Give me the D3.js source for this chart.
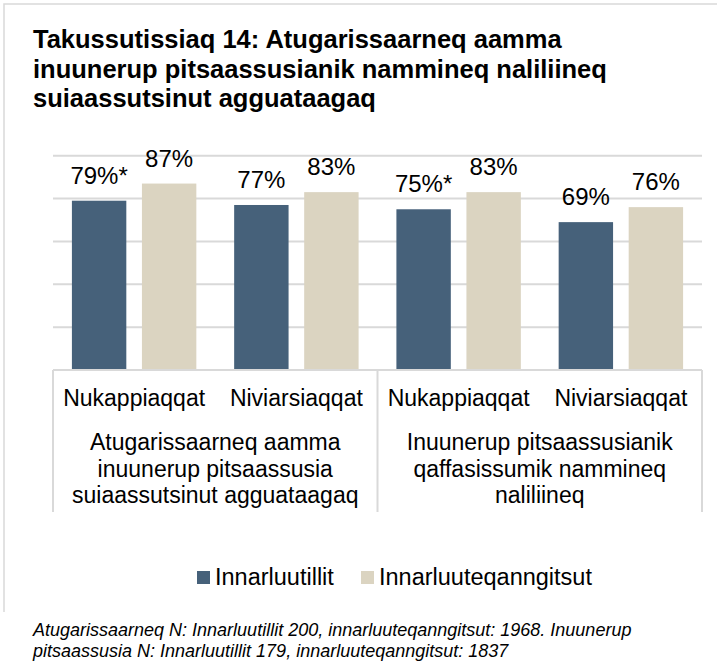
<!DOCTYPE html>
<html>
<head>
<meta charset="utf-8">
<script src="https://cdn.jsdelivr.net/npm/d3@7"></script>
<style>
  html, body { margin: 0; padding: 0; background: #fff; }
  svg { display: block; font-family: "Liberation Sans", Arial, sans-serif; }
</style>
</head>
<body>
<svg id="chart" width="717" height="672"></svg>
<script>
// ---- data ----
const titleLines = [
  "Takussutissiaq 14: Atugarissaarneq aamma",
  "inuunerup pitsaassusianik nammineq naliliineq",
  "suiaassutsinut agguataagaq"
];
const categories = ["Nukappiaqqat", "Niviarsiaqqat", "Nukappiaqqat", "Niviarsiaqqat"];
const groups = [
  ["Atugarissaarneq aamma", "inuunerup pitsaassusia", "suiaassutsinut agguataagaq"],
  ["Inuunerup pitsaassusianik", "qaffasissumik nammineq", "naliliineq"]
];
const seriesNames = ["Innarluutillit", "Innarluuteqanngitsut"];
const seriesA = [79, 77, 75, 69];
const seriesB = [87, 83, 83, 76];
const labelsA = ["79%*", "77%", "75%*", "69%"];
const labelsB = ["87%", "83%", "83%", "76%"];
const yTicks = [0, 20, 40, 60, 80, 100];
const footnote = [
  "Atugarissaarneq N: Innarluutillit 200, innarluuteqanngitsut: 1968. Inuunerup",
  "pitsaassusia N: Innarluutillit 179, innarluuteqanngitsut: 1837"
];

const colors = ["#46617a", "#dbd4c1"];

const svg = d3.select("#chart");

// outer frame (left & top edges visible)
svg.append("path")
  .attr("d", "M4,612 L4,4 L717,4")
  .attr("fill", "none").attr("stroke", "#d9d9d9").attr("stroke-width", 1.5);

// title
svg.append("text")
  .attr("font-weight", "bold").attr("font-size", 25.5).attr("fill", "#000")
  .selectAll("tspan").data(titleLines).join("tspan")
  .attr("x", 33).attr("y", (d, i) => 48 + i * 29.5).text(d => d);

const plotL = 53, plotR = 702, plotT = 155.7, plotB = 370;

const x0 = d3.scaleBand().domain(d3.range(categories.length)).range([plotL, plotR]).paddingInner(0).paddingOuter(0);
const x1 = d3.scaleBand().domain([0, 1]).range([0, x0.bandwidth()]).paddingInner(0.223).paddingOuter(0.27);
const y = d3.scaleLinear().domain([0, 100]).range([plotB, plotT]);

// gridlines
svg.append("g").selectAll("line").data(yTicks.filter(t => t > 0)).join("line")
  .attr("x1", plotL).attr("x2", plotR)
  .attr("y1", d => y(d)).attr("y2", d => y(d))
  .attr("stroke", "#d9d9d9").attr("stroke-width", 2);

// bars
const rows = categories.map((c, i) => ({ i, vals: [seriesA[i], seriesB[i]], labs: [labelsA[i], labelsB[i]] }));
const g = svg.append("g").selectAll("g").data(rows).join("g")
  .attr("transform", d => `translate(${x0(d.i)},0)`);
g.selectAll("rect").data(d => d.vals.map((v, k) => ({ v, k }))).join("rect")
  .attr("x", d => x1(d.k)).attr("width", x1.bandwidth())
  .attr("y", d => y(d.v)).attr("height", d => plotB - y(d.v))
  .attr("fill", d => colors[d.k]);
g.selectAll("text").data(d => d.vals.map((v, k) => ({ v, k, lab: d.labs[k] }))).join("text")
  .attr("x", d => x1(d.k) + x1.bandwidth() / 2)
  .attr("y", d => y(d.v) - 17)
  .attr("text-anchor", "middle").attr("font-size", 24).attr("fill", "#000")
  .text(d => d.lab);

// axis lines
const axisG = svg.append("g").attr("stroke", "#d9d9d9").attr("stroke-width", 2);
axisG.append("line").attr("x1", plotL).attr("x2", plotR).attr("y1", plotB).attr("y2", plotB);
const groupW = (plotR - plotL) / groups.length;
d3.range(groups.length + 1).forEach(k => {
  axisG.append("line").attr("x1", plotL + k * groupW).attr("x2", plotL + k * groupW)
    .attr("y1", plotB).attr("y2", 512);
});

// category labels
svg.append("g").selectAll("text").data(categories).join("text")
  .attr("x", (d, i) => x0(i) + x0.bandwidth() / 2).attr("y", 406)
  .attr("text-anchor", "middle").attr("font-size", 23).attr("fill", "#000")
  .text(d => d);

// group labels
svg.append("g").selectAll("text").data(groups).join("text")
  .attr("text-anchor", "middle").attr("font-size", 23).attr("fill", "#000")
  .each(function (lines, gi) {
    d3.select(this).selectAll("tspan").data(lines).join("tspan")
      .attr("x", plotL + groupW * (gi + 0.5))
      .attr("y", (d, i) => 450 + i * 26.5).text(d => d);
  });

// legend
const legend = svg.append("g").attr("transform", "translate(197,571)");
const items = legend.selectAll("g").data(seriesNames).join("g")
  .attr("transform", (d, i) => `translate(${i * 164},0)`);
items.append("rect").attr("width", 13).attr("height", 13).attr("fill", (d, i) => colors[i]);
items.append("text").attr("x", 18).attr("y", 13.5).attr("font-size", 23.5).attr("fill", "#000").text(d => d);

// footnote
svg.append("text").attr("font-style", "italic").attr("font-size", 18).attr("fill", "#000")
  .selectAll("tspan").data(footnote).join("tspan")
  .attr("x", 33).attr("y", (d, i) => 636 + i * 21).text(d => d);
</script>
</body>
</html>
